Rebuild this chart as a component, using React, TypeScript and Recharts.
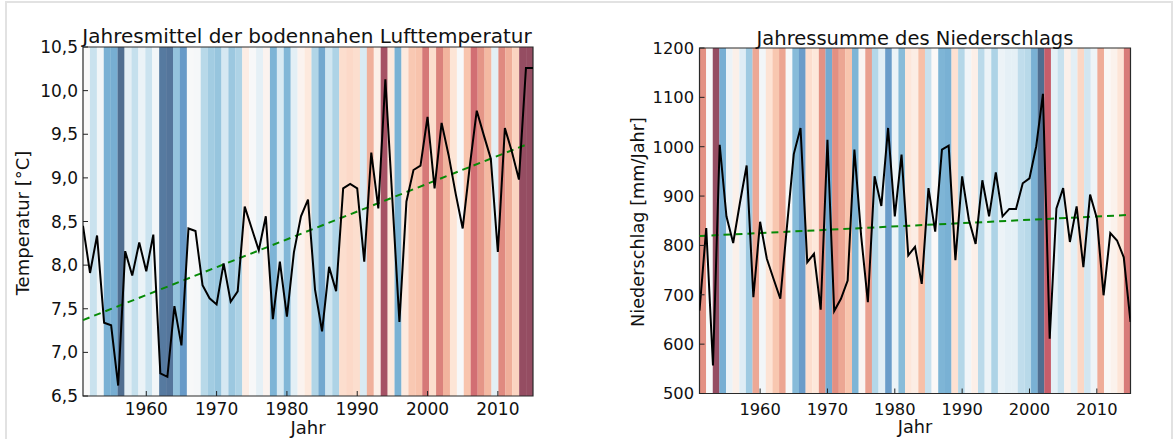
import React from 'react';
import { ComposedChart, Line, XAxis, YAxis, ReferenceArea, ReferenceLine } from 'recharts';

const years = [
  1951, 1952, 1953, 1954, 1955, 1956, 1957, 1958, 1959, 1960,
  1961, 1962, 1963, 1964, 1965, 1966, 1967, 1968, 1969, 1970,
  1971, 1972, 1973, 1974, 1975, 1976, 1977, 1978, 1979, 1980,
  1981, 1982, 1983, 1984, 1985, 1986, 1987, 1988, 1989, 1990,
  1991, 1992, 1993, 1994, 1995, 1996, 1997, 1998, 1999, 2000,
  2001, 2002, 2003, 2004, 2005, 2006, 2007, 2008, 2009, 2010,
  2011, 2012, 2013, 2014, 2015,
];

const temperature = [
  8.45, 7.91, 8.34, 7.34, 7.31, 6.62, 8.16, 7.88, 8.26, 7.93,
  8.35, 6.76, 6.72, 7.53, 7.08, 8.42, 8.39, 7.77, 7.62, 7.55,
  8.02, 7.58, 7.7, 8.67, 8.42, 8.17, 8.56, 7.38, 8.04, 7.41,
  8.15, 8.56, 8.75, 7.72, 7.24, 7.98, 7.7, 8.88, 8.93, 8.88,
  8.04, 9.29, 8.65, 10.13, 8.75, 7.35, 8.73, 9.09, 9.14, 9.7,
  8.88, 9.63, 9.26, 8.82, 8.42, 9.13, 9.77, 9.49, 9.22, 8.15,
  9.57, 9.3, 8.98, 10.26, 10.26,
];

const precipitation = [
  668, 835, 557, 1004, 859, 805, 886, 962, 695, 848,
  773, 732, 692, 840, 985, 1038, 766, 783, 670, 1014,
  667, 692, 729, 994, 820, 685, 940, 880, 1038, 859,
  984, 780, 797, 722, 916, 828, 994, 1002, 770, 940,
  852, 803, 932, 859, 948, 859, 874, 874, 926, 936,
  1001, 1107, 611, 875, 916, 807, 879, 756, 903, 855,
  699, 825, 810, 776, 645,
];

const yearTicks = [1960, 1970, 1980, 1990, 2000, 2010];
const tempTicks = [6.5, 7, 7.5, 8, 8.5, 9, 9.5, 10, 10.5];
const precipTicks = [500, 600, 700, 800, 900, 1000, 1100, 1200];

const tempTrend = [
  { x: 1951, y: 7.37 },
  { x: 2014, y: 9.38 },
];
const precipTrend = [
  { x: 1951, y: 819 },
  { x: 2015, y: 862 },
];

const tempTitle = 'Jahresmittel der bodennahen Lufttemperatur';
const precipTitle = 'Jahressumme des Niederschlags';
const tempYLabel = 'Temperatur [°C]';
const precipYLabel = 'Niederschlag [mm/Jahr]';
const xLabel = 'Jahr';

const tempData = years.map((year, i) => ({ year, value: temperature[i] }));
const precipData = years.map((year, i) => ({ year, value: precipitation[i] }));

// RdBu colormap (red -> white -> blue)
const RDBU = ['#67001f', '#b2182b', '#d6604d', '#f4a582', '#fddbc7', '#f7f7f7', '#d1e5f0', '#92c5de', '#4393c3', '#2166ac', '#053061'];
const hex = (h: string) => [parseInt(h.slice(1, 3), 16), parseInt(h.slice(3, 5), 16), parseInt(h.slice(5, 7), 16)];
function rdbu(t: number, alpha = 0.7) {
  const tt = Math.max(0, Math.min(1, t));
  const p = tt * (RDBU.length - 1);
  const i = Math.min(RDBU.length - 2, Math.floor(p));
  const f = p - i;
  const a = hex(RDBU[i]);
  const b = hex(RDBU[i + 1]);
  const c = a.map((v, k) => v + (b[k] - v) * f).map((v) => Math.round(alpha * v + (1 - alpha) * 255));
  return `rgb(${c[0]},${c[1]},${c[2]})`;
}

const X0 = 1951;
const X1 = 2015;

function stripes(values: number[], vmin: number, vmax: number, reverse: boolean, ymin: number, ymax: number) {
  const n = values.length;
  const w = (X1 - X0) / n;
  return values.map((v, i) => {
    let t = (v - vmin) / (vmax - vmin);
    if (reverse) t = 1 - t;
    const col = rdbu(t);
    return (
      <ReferenceArea
        key={`s${i}`}
        x1={X0 + i * w}
        x2={X0 + (i + 1) * w + 0.02}
        y1={ymin}
        y2={ymax}
        fill={col}
        fillOpacity={1}
        stroke="none"
        ifOverflow="hidden"
      />
    );
  });
}

const comma = (v: number) => v.toFixed(1).replace('.', ',');

const FONT = '"DejaVu Sans", Verdana, sans-serif';

function Text({ x, y, size, children, rotate }: { x: number; y: number; size: number; children: React.ReactNode; rotate?: boolean }) {
  return (
    <div
      style={{
        position: 'absolute',
        left: x,
        top: y,
        fontSize: size,
        lineHeight: 1,
        whiteSpace: 'nowrap',
        color: '#111',
        transform: rotate ? 'translate(-50%, -50%) rotate(-90deg)' : 'translateX(-50%)',
      }}
    >
      {children}
    </div>
  );
}

export default function App() {
  return (
    <div
      style={{
        position: 'absolute',
        left: 0,
        top: 0,
        width: 1176,
        height: 439,
        background: '#fff',
        overflow: 'hidden',
        fontFamily: FONT,
      }}
    >
      <div
        style={{
          position: 'absolute',
          left: 5,
          top: 1,
          width: 1164,
          height: 470,
          border: '2px solid #e2e2e2',
        }}
      />
      <div style={{ position: 'absolute', left: 0, top: 0 }}>
        <ComposedChart width={560} height={439} data={tempData} margin={{ top: 47, right: 27, bottom: 0, left: 0 }}>
          {stripes(temperature, 6.65, 10.25, true, 6.5, 10.5)}
          <ReferenceArea x1={X0} x2={X1} y1={6.5} y2={10.5} fill="none" stroke="#2a2a2a" strokeWidth={1.2} />
          <XAxis
            type="number"
            dataKey="year"
            domain={[X0, X1]}
            ticks={yearTicks}
            interval={0}
            allowDataOverflow
            axisLine={false}
            tickSize={-5}
            tickMargin={12}
            tickLine={{ stroke: '#222' }}
            height={43}
            tick={{ fontSize: 17, fill: '#111' }}
          />
          <YAxis
            type="number"
            domain={[6.5, 10.5]}
            ticks={tempTicks}
            interval={0}
            allowDataOverflow
            axisLine={false}
            tickSize={-5}
            tickMargin={10}
            tickLine={{ stroke: '#222' }}
            width={83}
            tickFormatter={comma}
            tick={{ fontSize: 17, fill: '#111' }}
          />
          <ReferenceLine
            segment={tempTrend}
            stroke="#078a07"
            strokeWidth={2}
            strokeDasharray="7 5"
          />
          <Line type="linear" dataKey="value" stroke="#000" strokeWidth={2} dot={false} isAnimationActive={false} />
        </ComposedChart>
      </div>
      <div style={{ position: 'absolute', left: 600, top: 0 }}>
        <ComposedChart width={560} height={439} data={precipData} margin={{ top: 48, right: 29.5, bottom: 0, left: 0 }}>
          {stripes(precipitation, 557, 1107, false, 500, 1200)}
          <ReferenceArea x1={X0} x2={X1} y1={500} y2={1200} fill="none" stroke="#2a2a2a" strokeWidth={1.2} />
          <XAxis
            type="number"
            dataKey="year"
            domain={[X0, X1]}
            ticks={yearTicks}
            interval={0}
            allowDataOverflow
            axisLine={false}
            tickSize={-5}
            tickMargin={15}
            tickLine={{ stroke: '#222' }}
            height={45.5}
            tick={{ fontSize: 16.3, fill: '#111' }}
          />
          <YAxis
            type="number"
            domain={[500, 1200]}
            ticks={precipTicks}
            interval={0}
            allowDataOverflow
            axisLine={false}
            tickSize={-5}
            tickMargin={10.5}
            tickLine={{ stroke: '#222' }}
            width={99.5}
            tick={{ fontSize: 16.3, fill: '#111' }}
          />
          <ReferenceLine
            segment={precipTrend}
            stroke="#078a07"
            strokeWidth={2}
            strokeDasharray="7 5"
          />
          <Line type="linear" dataKey="value" stroke="#000" strokeWidth={2} dot={false} isAnimationActive={false} />
        </ComposedChart>
      </div>
      <Text x={307} y={26.4} size={20}>{tempTitle}</Text>
      <Text x={915} y={28.5} size={19.5}>{precipTitle}</Text>
      <Text x={22.5} y={222.5} size={18} rotate>{tempYLabel}</Text>
      <Text x={638.5} y={222} size={17.7} rotate>{precipYLabel}</Text>
      <Text x={308} y={419} size={18}>{xLabel}</Text>
      <Text x={915} y={418.5} size={17.7}>{xLabel}</Text>
    </div>
  );
}
